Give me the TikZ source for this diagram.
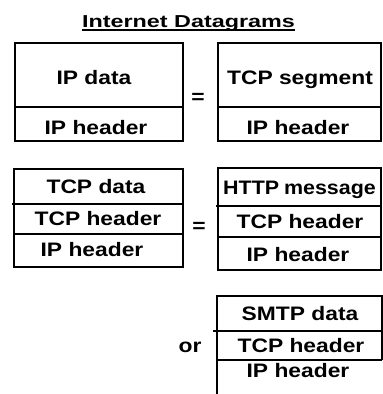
\documentclass[tikz,border=0pt]{standalone}
\usepackage{fontspec}
\setmainfont{Liberation Sans}
\usepackage{graphicx}
\newcommand\lblx[1]{\scalebox{1.17}[1]{#1}}
\tikzset{
  lbl/.style={inner sep=0pt, anchor=base, font=\fontsize{19.5}{23}\selectfont\bfseries},
  ttl/.style={inner sep=0pt, anchor=base, font=\fontsize{17.3}{21}\selectfont\bfseries},
  boxline/.style={line width=2pt},
}
\begin{document}
\begin{tikzpicture}[x=1pt,y=-1pt]
\useasboundingbox (0,0) rectangle (383,394);
% title
\node[ttl] (title) at (188.5,27) {\scalebox{1.35}[1]{Internet Datagrams}};
\draw[line width=1.6pt] (title.base west) ++(0,3) coordinate (ul1) -- (title.base east |- ul1);

% row 1 left
\draw[boxline] (15,43) rectangle (183,141);
\draw[boxline] (15,107) -- (183,107);
\node[lbl] (ipdata) at (94,84) {\lblx{IP data}};
\node[lbl] (iph1) at (96,134) {\lblx{IP header}};
\node[lbl] (eq1) at (198,103.5) {\lblx{=}};
% row 1 right
\draw[boxline] (218,43) rectangle (381,141);
\draw[boxline] (218,107) -- (381,107);
\node[lbl] (tcpseg) at (300,84) {\lblx{TCP segment}};
\node[lbl] (iph2) at (298,134) {\lblx{IP header}};

% row 2 left
\draw[boxline] (14,169) rectangle (183,267);
\draw[boxline] (12,204) -- (183,204);
\draw[boxline] (14,234) -- (183,234);
\node[lbl] (tcpdata) at (96,193) {\lblx{TCP data}};
\node[lbl] (tcph1) at (98,225) {\lblx{TCP header}};
\node[lbl] (iph3) at (92,256) {\lblx{IP header}};
\node[lbl] (eq2) at (199,232.5) {\lblx{=}};
% row 2 right
\draw[boxline] (218,168) rectangle (381,270);
\draw[boxline] (216,206) -- (381,206);
\draw[boxline] (218,237) -- (381,237);
\node[lbl] (http) at (299.5,194) {\scalebox{1.1}[1]{HTTP\kern-1pt\ message}};
\node[lbl] (tcph2) at (300,228) {\lblx{TCP header}};
\node[lbl] (iph4) at (298,261) {\lblx{IP header}};

% row 3
\draw[boxline] (217,394) -- (217,296) -- (382,296) -- (382,360);
\draw[boxline] (213,331) -- (382,331);
\draw[boxline] (217,360) -- (382,360);
\node[lbl] (smtp) at (300,320) {\lblx{SMTP data}};
\node[lbl] (tcph3) at (301,352) {\lblx{TCP header}};
\node[lbl] (iph5) at (298,377) {\lblx{IP header}};
\node[lbl] (or) at (190,352) {\lblx{or}};
\end{tikzpicture}
\end{document}
